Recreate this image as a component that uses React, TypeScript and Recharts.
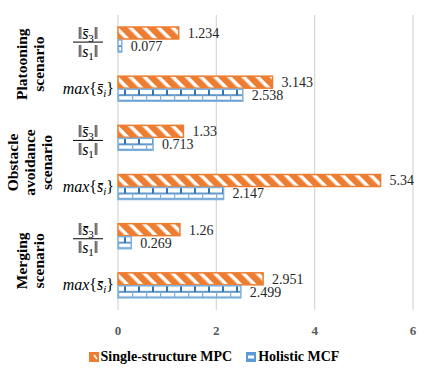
import React from "react";
import {
  BarChart,
  Bar,
  XAxis,
  YAxis,
  CartesianGrid,
  Legend,
  LabelList,
} from "recharts";

const CATEGORY_IDS = ["plat-ratio", "plat-max", "obst-ratio", "obst-max", "merg-ratio", "merg-max"];
const CATEGORY_METRIC = ["ratio", "max", "ratio", "max", "ratio", "max"];
const CATEGORY_GROUP = [0, 0, 1, 1, 2, 2];
const GROUP_LABELS = [
  ["Platooning", "scenario"],
  ["Obstacle", "avoidance", "scenario"],
  ["Merging", "scenario"],
];
const SINGLE_MPC = [1.234, 3.143, 1.33, 5.34, 1.26, 2.951];
const HOLISTIC_MCF = [0.077, 2.538, 0.713, 2.147, 0.269, 2.499];
const X_TICKS = [0, 2, 4, 6];
const SERIES_NAMES = ["Single-structure MPC", "Holistic MCF"];

const ORANGE = "#ED7D31";
const BLUE = "#2E75B6";
const BLUE_LIGHT = "#7FB0DE";
const SERIF = "'Liberation Serif', 'Times New Roman', serif";

const chartData = CATEGORY_IDS.map((id, i) => ({
  id,
  mpc: SINGLE_MPC[i],
  mcf: HOLISTIC_MCF[i],
}));

function CategoryTick(props: any) {
  const { y, payload, index } = props;
  const i = typeof index === "number" ? index : payload.index;
  const metric = CATEGORY_METRIC[i];
  const half = payload && payload.offset ? payload.offset : 24;
  const cx = 88;
  const mathStyle = { fontFamily: SERIF, fontSize: 16, fill: "#000" };

  // scenario name, drawn once per group, centred between its two rows
  let groupLabel = null;
  if (i === 0 || CATEGORY_GROUP[i] !== CATEGORY_GROUP[i - 1]) {
    const lines = GROUP_LABELS[CATEGORY_GROUP[i]];
    const gy = y + half;
    const spacing = 17;
    const startX = 29.5 - ((lines.length - 1) * spacing) / 2;
    groupLabel = lines.map((line, k) => (
      <text
        key={line}
        transform={`translate(${startX + k * spacing},${gy}) rotate(-90)`}
        textAnchor="middle"
        dominantBaseline="central"
        style={{ fontFamily: SERIF, fontSize: 15.5, fontWeight: 700, fill: "#000" }}
      >
        {line}
      </text>
    ));
  }

  return (
    <g>
      {groupLabel}
      {metric === "ratio" ? (
        <g>
          <text x={cx} y={y - 1} textAnchor="middle" style={mathStyle}>
            <tspan>‖</tspan>
            <tspan fontStyle="italic">s̄</tspan>
            <tspan fontSize={11} dy={3}>3</tspan>
            <tspan dy={-3}>‖</tspan>
          </text>
          <line x1={cx - 15} x2={cx + 15} y1={y + 2.5} y2={y + 2.5} stroke="#000" strokeWidth={1} />
          <text x={cx} y={y + 17} textAnchor="middle" style={mathStyle}>
            <tspan>‖</tspan>
            <tspan fontStyle="italic">s</tspan>
            <tspan fontSize={11} dy={3}>1</tspan>
            <tspan dy={-3}>‖</tspan>
          </text>
        </g>
      ) : (
        <text x={114} y={y + 5} textAnchor="end" style={mathStyle}>
          <tspan fontStyle="italic">max</tspan>
          <tspan>{"{"}</tspan>
          <tspan fontStyle="italic">s̄</tspan>
          <tspan fontSize={11} fontStyle="italic" dy={3}>i</tspan>
          <tspan dy={-3}>{"}"}</tspan>
        </text>
      )}
    </g>
  );
}

function MpcBar(props: any) {
  const { x, y, width, height } = props;
  if (!width || width <= 0) return null;
  return (
    <g transform={`translate(${x},${y})`}>
      <rect width={width} height={height} fill="url(#mpcStripes)" stroke={ORANGE} strokeWidth={1.5} />
    </g>
  );
}

function McfBar(props: any) {
  const { x, y, width, height } = props;
  if (!width || width <= 0) return null;
  return (
    <g transform={`translate(${x},${y})`}>
      <rect width={width} height={height} fill="url(#mcfBricks)" stroke={BLUE_LIGHT} strokeWidth={1.5} />
    </g>
  );
}

function LegendContent() {
  return (
    <div
      style={{
        display: "flex",
        justifyContent: "center",
        alignItems: "center",
        gap: 14,
        fontFamily: SERIF,
        fontWeight: 700,
        fontSize: 14,
        color: "#000",
      }}
    >
      <div style={{ display: "flex", alignItems: "center", gap: 2 }}>
        <svg width={10} height={10}>
          <rect width={10} height={10} fill={ORANGE} />
          <path d="M5 3 L8 7" stroke="#fff" strokeWidth={1.5} />
        </svg>
        <span>{SERIES_NAMES[0]}</span>
      </div>
      <div style={{ display: "flex", alignItems: "center", gap: 2 }}>
        <svg width={10} height={10}>
          <rect width={10} height={10} fill="#5B9BD5" />
          <rect x={2} y={3.5} width={6} height={3} fill="#fff" />
        </svg>
        <span>{SERIES_NAMES[1]}</span>
      </div>
    </div>
  );
}

export default function App() {
  return (
    <div style={{ position: "absolute", left: 0, top: 0 }}>
      <BarChart
        width={436}
        height={381}
        data={chartData}
        layout="vertical"
        margin={{ top: 15, right: 23, left: 0, bottom: 25 }}
        barGap={1}
      >
        <defs>
          <pattern id="mpcStripes" width={10} height={10} patternUnits="userSpaceOnUse" patternTransform="rotate(-45)">
            <rect width={10} height={10} fill="#fff" />
            <rect width={6.5} height={10} fill={ORANGE} />
          </pattern>
          <pattern id="mcfBricks" width={14} height={12} patternUnits="userSpaceOnUse">
            <rect width={14} height={12} fill="#fff" />
            <line x1={0} x2={14} y1={6} y2={6} stroke={BLUE} strokeWidth={1.5} />
            <line x1={0} x2={14} y1={11.5} y2={11.5} stroke={BLUE} strokeWidth={1.5} />
            <line x1={7} x2={7} y1={0} y2={6} stroke={BLUE} strokeWidth={2} />
            <line x1={0.5} x2={0.5} y1={6} y2={12} stroke={BLUE_LIGHT} strokeWidth={1.5} />
          </pattern>
        </defs>
        <CartesianGrid horizontal={false} stroke="#D9D9D9" strokeWidth={1.3} />
        <XAxis
          type="number"
          domain={[0, 6]}
          ticks={X_TICKS}
          axisLine={false}
          tickLine={false}
          tickMargin={10}
          height={30}
          tick={{ fontFamily: SERIF, fontSize: 13, fontWeight: 700, fill: "#595959" }}
        />
        <YAxis
          type="category"
          dataKey="id"
          width={118}
          axisLine={false}
          tickLine={false}
          tick={<CategoryTick />}
          interval={0}
        />
        <Legend
          verticalAlign="bottom"
          content={<LegendContent />}
          wrapperStyle={{ left: 0, width: 428, bottom: 16 }}
        />
        <Bar dataKey="mpc" name={SERIES_NAMES[0]} barSize={12} shape={<MpcBar />} isAnimationActive={false}>
          <LabelList
            dataKey="mpc"
            position="right"
            offset={9}
            style={{ fontFamily: SERIF, fontSize: 14, fill: "#262626" }}
          />
        </Bar>
        <Bar dataKey="mcf" name={SERIES_NAMES[1]} barSize={12} shape={<McfBar />} isAnimationActive={false}>
          <LabelList
            dataKey="mcf"
            position="right"
            offset={9}
            style={{ fontFamily: SERIF, fontSize: 14, fill: "#262626" }}
          />
        </Bar>
      </BarChart>
    </div>
  );
}
